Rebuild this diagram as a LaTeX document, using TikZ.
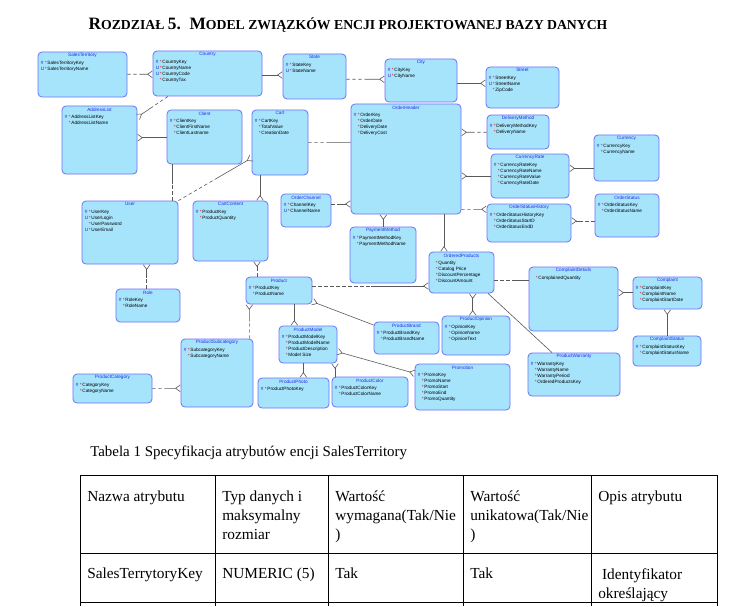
\documentclass[tikz,border=0pt]{standalone}
\usepackage{fontspec}
\setmainfont{Liberation Serif}
\setsansfont{Liberation Sans}
\usetikzlibrary{arrows.meta, fit, calc}

\definecolor{entfill}{RGB}{166,228,252}
\definecolor{entdraw}{RGB}{108,112,250}
\definecolor{entblue}{RGB}{40,40,230}
\definecolor{keyblue}{RGB}{30,30,200}
\definecolor{relgray}{RGB}{90,90,90}

% attribute prefixes: primary key, unique key, mandatory
\newcommand{\pk}{\makebox[3pt][l]{\textcolor{keyblue}{\#}}\makebox[1.9pt][l]{\textcolor{red}{*}}}
\newcommand{\uk}{\makebox[3pt][l]{\textcolor{keyblue}{U}}\makebox[1.9pt][l]{\textcolor{red}{*}}}
\newcommand{\nn}{\makebox[3pt][l]{}\makebox[1.9pt][l]{\textcolor{red}{*}}}

% entity box: name, x1, y1, x2, y2, title, attributes
\newcommand{\entity}[7]{%
  \node[entbox, fit={(#2,#3) (#4,#5)}] (#1) {};
  \node[enttitle] (#1-title) at ([yshift=-2.8pt]#1.north) {#6};
  \node[entattr] (#1-attr) at ([xshift=2.25pt, yshift=-6.9pt]#1.north west) {#7};
}
% relation line: dashed half, then solid half
\newcommand{\halfrel}[3][crow]{%
  \draw[opt] #2 -- ($#2!0.5!#3$);
  \draw[rel, #1] ($#2!0.5!#3$) -- #3;
}

\newcommand{\bigsc}{\fontsize{13}{15}\selectfont}
\newcommand{\smallsc}{\fontsize{10.3}{12}\selectfont}

\begin{document}
\begin{tikzpicture}[
    x=0.75pt, y=-0.75pt,
    entbox/.style={draw=entdraw, fill=entfill, line width=0.6pt, rounded corners=3pt, inner sep=0pt},
    enttitle/.style={font=\sffamily\fontsize{3.5}{4.5}\selectfont, text=entblue, inner sep=0pt},
    entattr/.style={anchor=north west, align=left, font=\sffamily\fontsize{3.5}{4.5}\selectfont, inner sep=0pt},
    rel/.style={draw=relgray, line width=0.45pt},
    opt/.style={rel, dash pattern=on 2.5pt off 2pt},
    crow/.style={-{Straight Barb[reversed, length=3.5pt, width=5pt]}},
    crowboth/.style={{Straight Barb[reversed, length=3.5pt, width=5pt]}-{Straight Barb[reversed, length=3.5pt, width=5pt]}},
    cell/.style={anchor=north west, align=left, inner sep=0pt, font=\fontsize{11.5}{14.25}\selectfont},
    tableline/.style={line width=0.7pt}
]
    \fill[white] (0,0) rectangle (741,606);
    \useasboundingbox (0,0) rectangle (741,606);

    % Chapter title
    \node[font=\bfseries] (chaptitle) at (348,25) {\bigsc R\smallsc OZDZIAŁ \bigsc 5.\ \ M\smallsc ODEL ZWIĄZKÓW ENCJI PROJEKTOWANEJ BAZY DANYCH};

    % Entities
    \entity{salester}{38}{52}{127}{97}{SalesTerritory}{\pk SalesTerritoryKey\\\uk SalesTerritoryName}
    \entity{country}{153}{51}{262}{96}{Country}{\pk CountryKey\\\uk CountryName\\\uk CountryCode\\\nn CountryTax}
    \entity{state}{283}{54}{346}{99}{State}{\pk StateKey\\\uk StateName}
    \entity{city}{385}{59}{457}{102}{City}{\pk CityKey\\\uk CityName}
    \entity{street}{486}{67}{559}{108}{Street}{\pk StreetKey\\\uk StreetName\\\nn ZipCode}
    \entity{addrlist}{62}{106}{137}{174}{AddressList}{\pk AddressListKey\\\nn AddressListName}
    \entity{client}{167}{110}{242}{164}{Client}{\pk ClientKey\\\nn ClientFirstName\\\nn ClientLastname}
    \entity{cart}{252}{110}{308}{175}{Cart}{\pk CartKey\\\nn TotalValue\\\nn CreationDate}
    \entity{orderheader}{351}{104}{461}{214}{OrderHeader}{\pk OrderKey\\\nn OrderDate\\\nn DeliveryDate\\\nn DeliveryCost}
    \entity{delivery}{487}{115}{549}{149}{DeliveryMethod}{\pk DeliveryMethodKey\\\nn DeliveryName}
    \entity{currency}{594}{135}{659}{181}{Currency}{\pk CurrencyKey\\\nn CurrencyName}
    \entity{currate}{491}{154}{569}{198}{CurrencyRate}{\pk CurrencyRateKey\\\nn CurrencyRateName\\\nn CurrencyRateValue\\\nn CurrencyRateDate}
    \entity{ostatushist}{487}{204}{571}{242}{OrderStatusHistory}{\pk OrderStatusHistoryKey\\\nn OrderStatusStartD\\\nn OrderStatusEndD}
    \entity{ostatus}{595}{194}{659}{237}{OrderStatus}{\pk OrderStatusKey\\\nn OrderStatusName}
    \entity{user}{82}{201}{178}{264}{User}{\pk UserKey\\\uk UserLogin\\\nn UserPassword\\\uk UserEmail}
    \entity{cartcontent}{193}{201}{268}{261}{CartContent}{\pk ProductKey\\\nn ProductQuantity}
    \entity{orderchannel}{281}{194}{331}{227}{OrderChannel}{\pk ChannelKey\\\uk ChannelName}
    \entity{payment}{350}{227}{416}{283}{PaymentMethod}{\pk PaymentMethodKey\\\nn PaymentMethodName}
    \entity{ordprod}{429}{252}{494}{293}{OrderedProducts}{\nn Quantity\\\nn Catalog Price\\\nn DiscountPercentage\\\nn DiscountAmount}
    \entity{role}{116}{289}{180}{322}{Role}{\pk RoleKey\\\nn RoleName}
    \entity{product}{246}{277}{312}{304}{Product}{\pk ProductKey\\\nn ProductName}
    \entity{compdetails}{529}{267}{618}{331}{ComplaintDetails}{\nn ComplainedQuantity}
    \entity{complaint}{633}{277}{702}{309}{Complaint}{\pk ComplaintKey\\\nn ComplaintName\\\nn ComplaintStartDate}
    \entity{compstatus}{633}{336}{701}{366}{ComplaintStatus}{\pk ComplaintStatusKey\\\nn ComplaintStatusName}
    \entity{prodbrand}{374}{322}{439}{354}{ProductBrand}{\pk ProductBrandKey\\\nn ProductBrandName}
    \entity{prodopinion}{442}{316}{510}{355}{ProductOpinion}{\pk OpinionKey\\\nn OpinionName\\\nn OpinionText}
    \entity{prodmodel}{279}{326}{337}{363}{ProductModel}{\pk ProductModelKey\\\nn ProductModelName\\\nn ProductDescription\\\nn Model Size}
    \entity{prodsubcat}{181}{339}{253}{407}{ProductSubcategory}{\pk SubcategoryKey\\\nn SubcategoryName}
    \entity{prodcat}{73}{374}{152}{403}{ProductCategory}{\pk CategoryKey\\\nn CategoryName}
    \entity{prodphoto}{258}{378}{329}{408}{ProductPhoto}{\pk ProductPhotoKey}
    \entity{prodcolor}{332}{377}{408}{407}{ProductColor}{\pk ProductColorKey\\\nn ProductColorName}
    \entity{promotion}{415}{364}{510}{410}{Promotion}{\pk PromoKey\\\nn PromoName\\\nn PromoStart\\\nn PromoEnd\\\nn PromoQuantity}
    \entity{prodwarranty}{528}{353}{620}{396}{ProductWarranty}{\pk WarrantyKey\\\nn WarrantyName\\\nn WarrantyPeriod\\\nn OrderedProductsKey}

    % Relations, half dashed
    \halfrel{(salester.east |- 0,74.3)}{(country.west |- 0,74.3)}
    \halfrel{(country.south -| 168,0)}{(addrlist.east |- 0,117)}
    \halfrel{(state.east |- 0,79.3)}{(city.west |- 0,79.3)}
    \halfrel[]{(cart.east |- 0,142.3)}{(orderheader.west |- 0,142.3)}
    \halfrel[]{(user.north -| 172.7,0)}{(client.south -| 172.7,0)}
    \halfrel{(user.north east)}{(cart.west |- 0,158)}
    \halfrel{(role.north -| 146.7,0)}{(user.south -| 146.7,0)}
    \halfrel{(product.north -| 257,0)}{(cartcontent.south -| 257,0)}
    \halfrel{(orderchannel.east |- 0,204)}{(orderheader.west |- 0,204)}
    \halfrel{(delivery.west |- 0,132.3)}{(orderheader.east |- 0,132.3)}
    \halfrel{(orderheader.east |- 0,209.3)}{(ostatushist.west |- 0,209.3)}
    \halfrel{(ostatus.west |- 0,221)}{(ostatushist.east |- 0,221)}
    \halfrel{(product.east |- 0,286)}{(ordprod.west |- 0,286)}
    \halfrel[]{(ordprod.east |- 0,280.7)}{(compdetails.west |- 0,280.7)}
    \halfrel{(prodcat.east |- 0,388.3)}{(prodsubcat.west |- 0,388.3)}
    \halfrel{(prodsubcat.north -| 249.3,0)}{(product.south -| 249.3,0)}

    % Relations, solid
    \draw[rel, crow] (client.west |- 0,137.7) -- (addrlist.east |- 0,137.7);
    \draw[rel, crow] (country.east |- 0,75) -- (state.west |- 0,75);
    \draw[rel, crow] (city.east |- 0,83.3) -- (street.west |- 0,83.3);
    \draw[rel, crow] (cart.south -| 260,0) -- (cartcontent.north -| 260,0);
    \draw[rel, crow] (currency.west |- 0,168.3) -- (currate.east |- 0,168.3);
    \draw[rel, crow] (currate.west |- 0,176) -- (orderheader.east |- 0,176);
    \draw[rel, crow] (payment.north -| 383.3,0) -- (orderheader.south -| 383.3,0);
    \draw[rel, crow] (orderheader.south -| 444,0) -- (ordprod.north -| 444,0);
    \draw[rel, crowboth] (ordprod.south -| 472.7,0) -- (prodopinion.north -| 472.7,0);
    \draw[rel] (ordprod.south -| 488,0) -- (prodwarranty.north -| 552,0);
    \draw[rel, crow] (complaint.west |- 0,292.7) -- (compdetails.east |- 0,292.7);
    \draw[rel, crow] (compstatus.north -| 667.3,0) -- (complaint.south -| 667.3,0);
    \draw[rel, crow] (prodbrand.west |- 0,325) -- (product.east |- 0,301.7);
    \draw[rel, crow] (product.south -| 294.3,0) -- (prodmodel.north -| 294.3,0);
    \draw[rel, crow] (prodmodel.south -| 303.3,0) -- (prodphoto.north -| 303.3,0);
    \draw[rel, crow] (prodcolor.north -| 335,0) -- (prodmodel.south -| 335,0);
    \draw[rel, crowboth] (prodmodel.east |- 0,351.7) -- (promotion.west |- 0,373.3);

    % Table caption
    \node[anchor=west, inner sep=0pt, font=\fontsize{11.2}{14}\selectfont] (caption) at (90,453) {Tabela 1 Specyfikacja atrybutów encji SalesTerritory};

    % Table grid
    \foreach \y in {475,553,602}
        \draw[tableline] (80,\y) -- (717,\y);
    \foreach \x in {80,215,328,463,591,717}
        \draw[tableline] (\x,475) -- (\x,606);

    % Header row
    \node[cell] (h1) at (87,491) {Nazwa atrybutu};
    \node[cell] (h2) at (222,491) {Typ danych i\\maksymalny\\rozmiar};
    \node[cell] (h3) at (335,491) {Wartość\\wymagana(Tak/Nie\\)};
    \node[cell] (h4) at (470,491) {Wartość\\unikatowa(Tak/Nie\\)};
    \node[cell] (h5) at (598,491) {Opis atrybutu};

    % First row
    \node[cell] (r1) at (87,568) {SalesTerrytoryKey};
    \node[cell] (r2) at (222,568) {NUMERIC (5)};
    \node[cell] (r3) at (335,568) {Tak};
    \node[cell] (r4) at (470,568) {Tak};
    \node[cell] (r5) at (598,568) {\ Identyfikator\\określający};
\end{tikzpicture}
\end{document}
